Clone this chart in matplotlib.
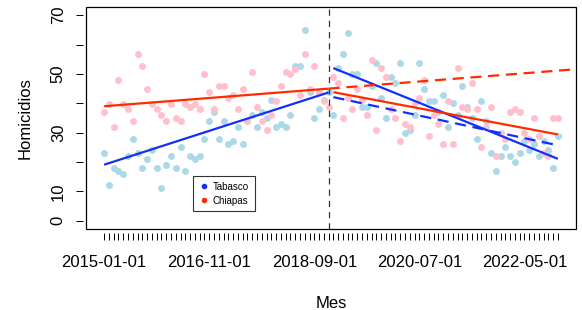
import matplotlib
matplotlib.use("Agg")
import matplotlib.pyplot as plt
from matplotlib.lines import Line2D
from matplotlib.patches import Rectangle
import numpy as np

plt.rcParams['font.family'] = ['Liberation Sans', 'DejaVu Sans']

# Monthly data, 2015-01 .. 2022-12 (index 0..95)
tabasco = [23.0, 12.3, 18.1, 17.1, 16.0, 22.0, 28.0, 23.0, 18.1, 21.0,
           24.0, 18.1, 11.0, 19.1, 22.0, 18.1, 25.1, 17.1, 22.0, 21.0,
           22.0, 28.0, 34.0, 36.9, 28.0, 34.0, 26.0, 27.0, 32.0, 26.0,
           34.0, 36.0, 32.0, 36.9, 35.0, 41.0, 32.0, 33.0, 32.0, 36.0,
           52.8, 52.8, 64.8, 44.0, 35.0, 37.9, 41.0, 44.0,
           36.0, 51.9, 56.9, 63.9, 50.0, 50.0, 38.9, 38.9, 45.9, 53.9,
           41.9, 35.0, 48.9, 46.9, 53.9, 30.0, 30.9, 35.9, 53.9, 44.9,
           40.9, 40.9, 37.0, 42.9, 32.0, 40.0, 36.0, 45.9, 38.9, 35.0,
           28.0, 40.9, 34.0, 23.0, 17.0, 22.0, 25.0, 22.0, 20.0, 23.0,
           27.0, 24.0, 26.0, 22.0, 27.0, 24.0, 18.0, 29.0]
chiapas = [36.9, 39.9, 32.0, 47.9, 39.9, 37.9, 34.0, 56.9, 52.8, 44.8,
           39.9, 37.9, 35.9, 34.0, 39.9, 35.0, 34.0, 39.9, 38.9, 39.9,
           37.9, 49.9, 43.9, 37.9, 45.8, 45.8, 41.9, 42.9, 37.9, 44.8,
           34.0, 50.8, 38.9, 34.0, 30.9, 35.9, 40.9, 45.8, 50.8, 49.9,
           51.8, 42.9, 56.9, 44.8, 52.8, 43.9, 40.9, 38.9,
           48.9, 46.9, 35.0, 41.9, 37.9, 44.9, 41.0, 36.0, 54.9, 30.9,
           51.9, 48.9, 37.9, 35.0, 27.0, 33.0, 32.0, 40.0, 41.9, 48.0,
           29.0, 36.0, 33.0, 26.0, 40.9, 26.0, 51.9, 38.9, 37.9, 46.9,
           37.9, 25.0, 32.0, 38.9, 22.0, 30.0, 28.0, 37.0, 37.9, 37.0,
           30.0, 28.0, 35.0, 29.0, 23.0, 22.0, 35.0, 35.0]

# Fitted trend segments (start/end month index and values)
tab_pre_x, tab_pre_y = [0, 47], [19.1, 43.7]
chi_pre_x, chi_pre_y = [0, 47], [39.0, 45.0]
tab_post_x, tab_post_y = [48, 95], [52.0, 21.1]
chi_post_x, chi_post_y = [48, 95], [43.8, 29.4]
tab_cf_x, tab_cf_y = [48, 95], [42.1, 25.7]
chi_cf_x, chi_cf_y = [47, 101], [45.0, 51.9]
intervention = 47

tick_label_pos = [0, 22, 44, 66, 88]
tick_labels = ["2015-01-01", "2016-11-01", "2018-09-01", "2020-07-01", "2022-05-01"]
ytick_vals = [0, 10, 20, 30, 40, 50, 60, 70]
ytick_labels = ["0", "10", "", "30", "", "50", "", "70"]

n = len(tabasco)
x = np.arange(n)

fig = plt.figure(figsize=(5.82, 3.10), dpi=100)
ax = fig.add_axes([86/582, 1-229/310, (576-86)/582, (229-7)/310])

ax.scatter(x, tabasco, s=25, color='#ADD8E6', linewidths=0, zorder=2)
ax.scatter(x, chiapas, s=25, color='#FFC0CB', linewidths=0, zorder=2)

ax.axvline(intervention, color='#333333', lw=0.9, linestyle=(0, (5, 4)), zorder=3)

blue = '#1030FF'
red = '#FF2A00'
ax.plot(tab_pre_x, tab_pre_y, color=blue, lw=1.6, zorder=4, solid_capstyle='butt')
ax.plot(chi_pre_x, chi_pre_y, color=red, lw=1.6, zorder=4, solid_capstyle='butt')
ax.plot(tab_post_x, tab_post_y, color=blue, lw=1.6, zorder=4, solid_capstyle='butt')
ax.plot(chi_post_x, chi_post_y, color=red, lw=1.6, zorder=4, solid_capstyle='butt')
ax.plot(tab_cf_x, tab_cf_y, color=blue, lw=1.6, linestyle=(0, (5, 3)), zorder=4)
ax.plot(chi_cf_x, chi_cf_y, color=red, lw=1.6, linestyle=(0, (5, 3)), zorder=4)

ax.set_xlim(-3.8, 98.8)
ax.set_ylim(-2.8, 72.8)

for s in ax.spines.values():
    s.set_visible(False)
ax.spines['bottom'].set_visible(True)
ax.spines['left'].set_visible(True)
ax.spines['bottom'].set_position(('outward', 3))
ax.spines['left'].set_position(('outward', 2))
ax.spines['bottom'].set_color('none')
ax.spines['left'].set_color('none')
ax.add_patch(Rectangle((0, 0), 1, 1, transform=ax.transAxes, fill=False,
                       edgecolor='black', lw=0.9, clip_on=False, zorder=6))

ax.set_xticks(x)
ax.set_xticklabels([tick_labels[tick_label_pos.index(i)] if i in tick_label_pos else "" for i in x])
ax.set_yticks(ytick_vals)
ax.set_yticklabels(ytick_labels, rotation=90, va='center')
ax.tick_params(axis='x', length=5, width=0.7, labelsize=12, pad=10.5)
ax.tick_params(axis='y', length=5, width=0.7, labelsize=12, pad=7.5)

ax.set_xlabel("Mes", fontsize=12, labelpad=19)
ax.set_ylabel("Homicidios", fontsize=12, labelpad=13)

handles = [Line2D([], [], marker='o', ls='none', color=blue, markersize=3),
           Line2D([], [], marker='o', ls='none', color=red, markersize=3)]
leg = ax.legend(handles, ["Tabasco", "Chiapas"], loc='upper left',
                bbox_to_anchor=(0.219, 0.239), fontsize=7, frameon=True,
                fancybox=False, edgecolor='black', handlelength=1.0,
                handletextpad=0.4, borderpad=0.6, labelspacing=0.4,
                borderaxespad=0)
leg.get_frame().set_linewidth(0.8)
leg.set_zorder(7)

fig.savefig("out.png", dpi=100)
